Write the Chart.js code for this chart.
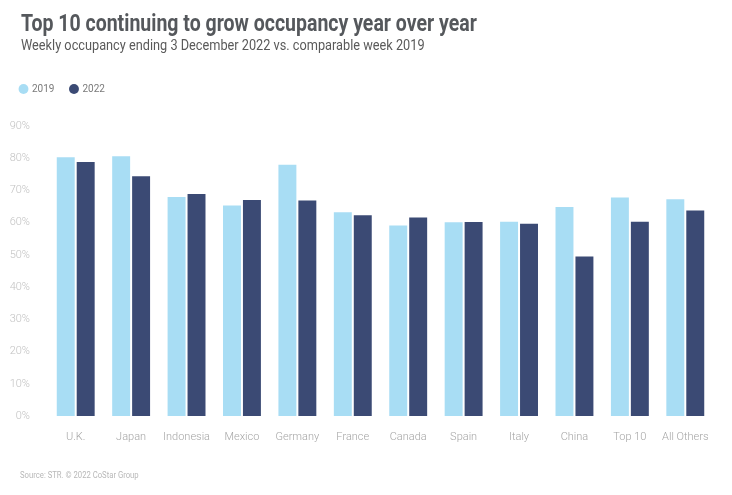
<!DOCTYPE html>
<html>
<head>
<meta charset="utf-8">
<script src="https://cdn.jsdelivr.net/npm/chart.js@4.4.0/dist/chart.umd.min.js"></script>
<style>
  html, body { margin: 0; padding: 0; background: #fff; }
  #wrap { position: relative; width: 732px; height: 495px; overflow: hidden; font-family: Roboto, sans-serif; }
  #chart { position: absolute; left: 0; top: 0; }
  .txt { position: absolute; left: 21px; white-space: nowrap; transform-origin: 0 0; }
  #title { top: 9px; font-size: 24px; font-weight: 700; color: #55585c; }
  #subtitle { top: 37px; font-size: 14px; font-weight: 400; color: #5a5a5a; }
  #source { top: 470px; left: 20px; font-size: 9px; color: #b8b8b8; }
</style>
</head>
<body>
<div id="wrap">
  <canvas id="chart" width="732" height="495"></canvas>
  <div class="txt" id="title">Top 10 continuing to grow occupancy year over year</div>
  <div class="txt" id="subtitle">Weekly occupancy ending 3 December 2022 vs. comparable week 2019</div>
  <div class="txt" id="source">Source: STR. © 2022 CoStar Group</div>
</div>
<script>
// values (percent)
var markets = ['U.K.', 'Japan', 'Indonesia', 'Mexico', 'Germany', 'France', 'Canada', 'Spain', 'Italy', 'China', 'Top 10', 'All Others'];
var occ2019 = [80.3, 80.6, 68.0, 65.3, 78.0, 63.2, 59.1, 60.1, 60.3, 64.9, 67.8, 67.3];
var occ2022 = [78.8, 74.4, 68.9, 67.0, 66.9, 62.3, 61.6, 60.2, 59.7, 49.5, 60.3, 63.8];
var yTicks = [0, 10, 20, 30, 40, 50, 60, 70, 80, 90];

// squeeze the headings so they look like the condensed font of the original
function squeeze(id, w) {
  var el = document.getElementById(id);
  el.style.transform = 'scaleX(' + (w / el.offsetWidth) + ')';
}
squeeze('title', 456);
squeeze('subtitle', 404);
squeeze('source', 119);

// leave some empty room under the legend before the plot starts
var legendGap = {
  id: 'legendGap',
  afterInit: function (chart) {
    var fit = chart.legend.fit;
    chart.legend.fit = function () {
      fit.call(this);
      this.height += 22;
    };
  }
};

var ctx = document.getElementById('chart').getContext('2d');
var myChart = new Chart(ctx, {
  type: 'bar',
  data: {
    labels: markets,
    datasets: [{
      label: '2019',
      data: occ2019,
      backgroundColor: '#a8ddf4'
    }, {
      label: '2022',
      data: occ2022,
      backgroundColor: '#3b4a74'
    }]
  },
  plugins: [legendGap],
  options: {
    responsive: false,
    animation: false,
    layout: { padding: { top: 68, left: 4, right: 19, bottom: 39 } },
    categoryPercentage: 0.72,
    barPercentage: 0.9,
    plugins: {
      legend: {
        position: 'top',
        align: 'start',
        labels: {
          usePointStyle: true,
          pointStyle: 'circle',
          boxWidth: 7,
          boxHeight: 7,
          padding: 16,
          color: '#7a7a7a',
          font: { family: 'Roboto', size: 10 }
        }
      },
      tooltip: { enabled: false }
    },
    scales: {
      x: {
        grid: { display: false },
        border: { display: false },
        ticks: {
          color: '#a5a5a5',
          padding: 7,
          maxRotation: 0,
          font: { family: 'Roboto', size: 11, weight: 300 }
        },
        afterFit: function (scale) { scale.height = 40; }
      },
      y: {
        min: 0,
        max: 90,
        grid: { display: false },
        border: { display: false },
        afterBuildTicks: function (scale) {
          scale.ticks = yTicks.map(function (v) { return { value: v }; });
        },
        ticks: {
          color: '#c2c2c2',
          padding: 10,
          font: { family: 'Roboto', size: 11, weight: 300 },
          callback: function (v) { return v + '%'; }
        },
        afterFit: function (scale) { scale.width = 44; }
      }
    }
  }
});
</script>
</body>
</html>
